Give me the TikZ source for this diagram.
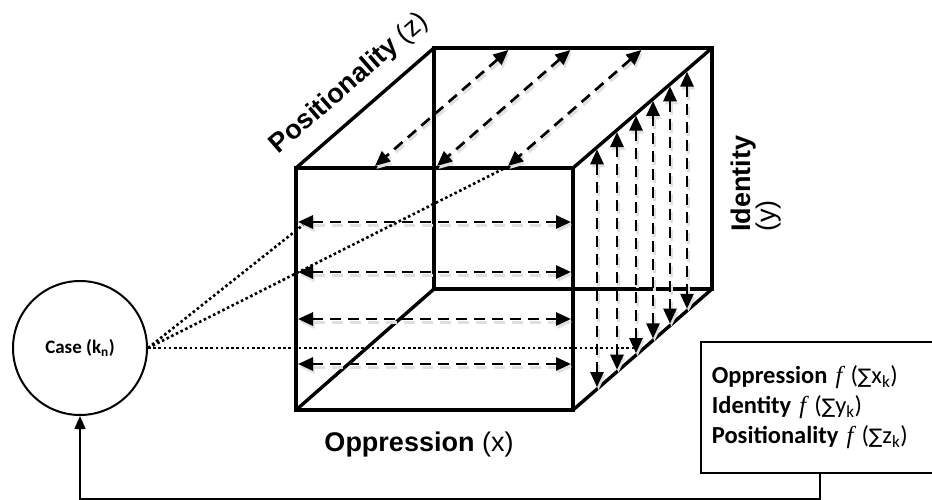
\documentclass[tikz,border=0pt]{standalone}
\usepackage{fontspec}
\setmainfont{Liberation Sans}
\newfontfamily\carl{Carlito}
\newfontfamily\dejav{DejaVu Sans}
\newfontfamily\lserif{Liberation Serif}
\newcommand{\fsum}{{\dejav\fontsize{20}{24}\selectfont ∑}}
\newcommand{\fitf}{{\lserif\itshape f}}
\usetikzlibrary{arrows.meta,calc}
\tikzset{
  cubeedge/.style={line width=3.4pt, line join=miter},
  dar/.style={line width=2.7pt, dash pattern=on 11pt off 7pt,
    {Triangle[length=15pt,width=13pt]}-{Triangle[length=15pt,width=13pt]},
    preaction={draw=black!12, line width=3pt, dash pattern=on 11pt off 7pt,
      transform canvas={shift={(1.5pt,-3pt)}}}},
  dotline/.style={line width=2.6pt, dash pattern=on 2.6pt off 2.6pt},
  conn/.style={line width=1.6pt, -{Triangle[length=13pt,width=11pt]}},
  biglab/.style={font=\fontsize{27}{30}\selectfont, inner sep=0pt},
}
\begin{document}
\begin{tikzpicture}[x=1pt,y=-1pt]
\useasboundingbox (0,0) rectangle (932,500);
% cube corners
\coordinate (F1) at (296,168);
\coordinate (F2) at (573,168);
\coordinate (F3) at (573,410);
\coordinate (F4) at (296,410);
\coordinate (B1) at (434,48);
\coordinate (B2) at (712,48);
\coordinate (B3) at (712,289);
\coordinate (B4) at (434,289);
% cube edges
\draw[cubeedge] (B1) -- (B2) -- (B3) -- (B4) -- cycle;
\draw[cubeedge] (F1) -- (B1) (F2) -- (B2) (F3) -- (B3) (F4) -- (B4);
\draw[cubeedge] (F1) -- (F2) -- (F3) -- (F4) -- cycle;
% horizontal arrows (front face)
\foreach \y [count=\i] in {222,272,319,364}{
  \coordinate (hl\i) at (298,\y);
  \coordinate (hr\i) at (571,\y);
  \draw[dar] (hl\i) -- (hr\i);
}
% diagonal arrows (top face)
\foreach \x [count=\i] in {375,437,508}{
  \coordinate (tb\i) at (\x,166);
  \coordinate (tt\i) at ({\x+133.4},50);
  \draw[dar] (tt\i) -- (tb\i);
}
% vertical arrows (right face)
\foreach \x [count=\i] in {597,617,636,653,670,687}{
  \coordinate (vt\i) at ($(F2)!{(\x-573)/139}!(B2)$);
  \coordinate (vb\i) at ($(F3)!{(\x-573)/139}!(B3)$);
  \draw[dar, shorten <=2pt, shorten >=2pt] (vt\i) -- (vb\i);
}
% case circle
\node[draw, circle, line width=2pt, minimum size=134pt, inner sep=0pt,
      font=\carl\bfseries\fontsize{19}{22}\selectfont] (case) at (80,348)
      {Case (k\textsubscript{n})};
% dotted lines
\coordinate (d1) at (303,225);
\coordinate (d2) at (505,168);
\coordinate (d3) at (635,348);
\draw[dotline] (case.east) -- (d1);
\draw[dotline] (case.east) -- (d2);
\draw[dotline] (case.east) -- (d3);
% result box
\node[draw, line width=1.8pt, anchor=north west, minimum width=236pt,
      minimum height=131pt, inner xsep=11pt, text width=214pt, align=left,
      font=\carl\fontsize{24.5}{30}\selectfont] (res) at (700,341)
  {{\bfseries Oppression} \fitf\ (\fsum x\textsubscript{k})\\
   {\bfseries Identity} \fitf\ (\fsum y\textsubscript{k})\\
   {\bfseries Positionality} \fitf\ (\fsum z\textsubscript{k})};
% feedback connector
\coordinate (rb) at ([xshift=120pt]res.south west);
\draw[conn] (rb) -- ++(0,25) -| (case.south);
% labels
\node[biglab, anchor=base] (xlab) at (419,451) {\textbf{Oppression} (x)};
\node[biglab, anchor=base, rotate=41] (zlab) at (354,89) {\textbf{Positionality} (z)};
\node[biglab, anchor=base west, rotate=90] (ylab) at (750,232) {\textbf{Identity}};
\node[biglab, anchor=base west, rotate=90] (yvar) at (775,232) {(y)};
\end{tikzpicture}
\end{document}
